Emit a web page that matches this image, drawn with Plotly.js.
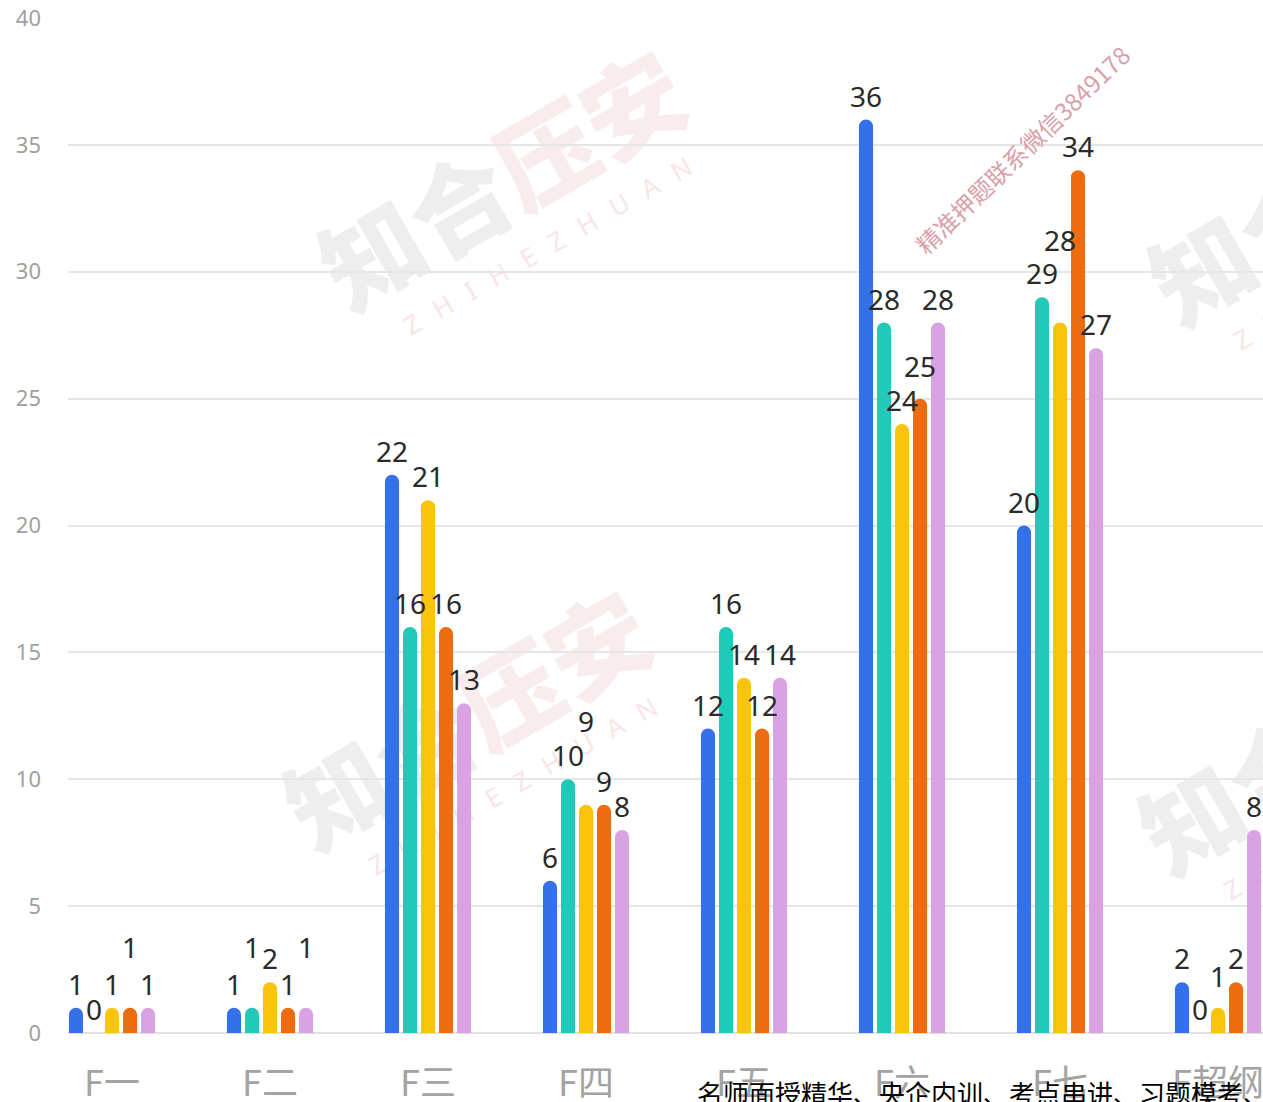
<!DOCTYPE html>
<html>
<head>
<meta charset="utf-8">
<script src="https://cdn.plot.ly/plotly-3.0.1.min.js"></script>
<style>
html,body{margin:0;padding:0;background:#fff;overflow:hidden;}
#chart{width:1263px;height:1102px;}
</style>
</head>
<body>
<div id="chart"></div>
<script>
// ---- data ----
var categories = ['F一', 'F二', 'F三', 'F四', 'F五', 'F六', 'F七', 'F超纲'];
var seriesA = [1, 1, 22, 6, 12, 36, 20, 2];   // blue
var seriesB = [0, 1, 16, 10, 16, 28, 29, 0];  // teal
var seriesC = [1, 2, 21, 9, 14, 24, 28, 1];   // yellow
var seriesD = [1, 1, 16, 9, 12, 25, 34, 2];   // orange
var seriesE = [1, 1, 13, 8, 14, 28, 27, 8];   // purple
var yTicks = [0, 5, 10, 15, 20, 25, 30, 35, 40];

// ---- style ----
var colors = ['#3470e8', '#20c9b8', '#fbc40c', '#ec6c0f', '#d9a2e3'];
var allSeries = [seriesA, seriesB, seriesC, seriesD, seriesE];
// extra upward nudges of value labels (overlap avoidance), px
var labelNudge = [
  [0, 0, 0, 0, 0, 0, 0, 0],
  [0, 37, 0, 0, 0, 0, 0, 0],
  [0, 0, 0, 60, 0, 0, 59, 8],
  [37, 0, 0, 0, 0, 9, 0, 0],
  [0, 37, 0, 0, 0, 0, 0, 0]
];

var W = 1263, H = 1102;
var mL = 68, mR = 0, mT = 18, mB = 69;
var plotW = W - mL - mR, plotH = H - mT - mB;
var xRange = [-0.2785, 7.2848];
var bargap = 0.43;
var catPx = plotW / (xRange[1] - xRange[0]);
var slotPx = catPx * (1 - bargap) / allSeries.length;

var traces = allSeries.map(function (vals, i) {
  return {
    type: 'bar',
    x: categories,
    y: vals,
    marker: {color: colors[i], cornerradius: 7},
    hoverinfo: 'none',
    showlegend: false
  };
});

var annotations = [];
allSeries.forEach(function (vals, s) {
  vals.forEach(function (v, c) {
    annotations.push({
      x: categories[c], y: v, xref: 'x', yref: 'y',
      text: String(v), showarrow: false,
      xanchor: 'center', yanchor: 'middle',
      xshift: (s - (allSeries.length - 1) / 2) * slotPx,
      yshift: 24 + labelNudge[s][c],
      font: {family: 'Noto Sans, Open Sans, sans-serif', size: 28, color: '#2a2a2a'}
    });
  });
});

// ---- watermarks (drawn below the bars as an SVG image) ----
function logoSvg(px, py) {
  var cx = px - mL, cy = py - mT;
  var s = '';
  s += '<g transform="rotate(-30 ' + cx + ' ' + cy + ')">';
  s += '<text x="' + cx + '" y="' + cy + '" text-anchor="middle" dominant-baseline="central" ' +
       'font-family="Noto Sans CJK SC" font-weight="900" font-size="100">' +
       '<tspan fill="#eeeeee">知合</tspan><tspan fill="#f9ecec">压安</tspan></text>';
  s += '<text x="' + (cx + 15) + '" y="' + (cy + 85) + '" text-anchor="middle" dominant-baseline="central" ' +
       'font-family="Noto Sans" font-size="26" fill="#f8e6e6" letter-spacing="18">ZHIHEZHUAN</text>';
  s += '</g>';
  return s;
}
var svg = '<svg xmlns="http://www.w3.org/2000/svg" width="' + plotW + '" height="' + plotH + '" viewBox="0 0 ' + plotW + ' ' + plotH + '">' +
  logoSvg(500, 175) + logoSvg(465, 715) + logoSvg(1330, 190) + logoSvg(1320, 740) + '</svg>';
var svgUri = 'data:image/svg+xml;charset=utf-8,' + encodeURIComponent(svg);

annotations.push({
  xref: 'paper', yref: 'paper',
  x: (1022 - mL) / plotW, y: (H - mB - 150) / plotH,
  text: '精准押题联系微信3849178', showarrow: false, textangle: -44,
  xanchor: 'center', yanchor: 'middle',
  font: {family: 'Noto Sans CJK SC, sans-serif', size: 24, color: '#d9a0a8'}
});

annotations.push({
  xref: 'paper', yref: 'paper',
  x: (695 - mL) / plotW, y: (H - mB - 1092) / plotH,
  text: '名师面授精华、央企内训、考点串讲、习题模考、', showarrow: false,
  xanchor: 'left', yanchor: 'middle',
  font: {family: 'Noto Sans CJK SC, sans-serif', size: 26, color: '#000'}
});

var layout = {
  width: W, height: H,
  margin: {l: mL, r: mR, t: mT, b: mB, pad: 0},
  paper_bgcolor: '#fff', plot_bgcolor: 'rgba(0,0,0,0)',
  barmode: 'group', bargap: bargap, bargroupgap: 0.22,
  xaxis: {
    type: 'category', range: xRange, showgrid: false, zeroline: false,
    showline: false, ticks: '', ticklabelstandoff: 26,
    tickfont: {family: 'Noto Sans CJK SC, sans-serif', size: 36, color: '#a3a3a3'}
  },
  yaxis: {
    range: [0, 40], tickvals: yTicks, ticktext: yTicks.map(String),
    showgrid: true, gridcolor: '#e6e6e6', gridwidth: 2,
    zeroline: true, zerolinecolor: '#e0e0e0', zerolinewidth: 2,
    showline: false, ticks: '', ticklabelstandoff: 26,
    tickfont: {family: 'Noto Sans, sans-serif', size: 22, color: '#a0a0a0'}
  },
  images: [{
    source: svgUri, xref: 'paper', yref: 'paper',
    x: 0, y: 1, sizex: 1, sizey: 1, xanchor: 'left', yanchor: 'top',
    sizing: 'stretch', layer: 'below', opacity: 1
  }],
  annotations: annotations
};

Plotly.newPlot('chart', traces, layout, {staticPlot: true, displayModeBar: false});
</script>
</body>
</html>
